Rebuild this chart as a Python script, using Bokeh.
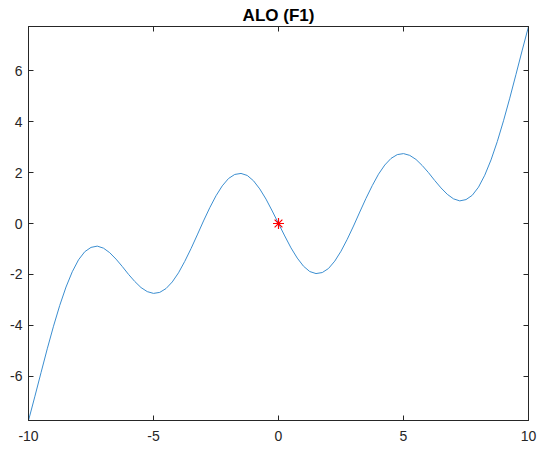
from bokeh.plotting import figure
from bokeh.models import Range1d, LinearAxis, FixedTicker, CustomJSTickFormatter
from bokeh.embed import file_html
from bokeh.resources import INLINE

# Curve values (x step 0.25)
x_vals = [-10.0, -9.75, -9.5, -9.25, -9.0, -8.75, -8.5, -8.25, -8.0, -7.75,
          -7.5, -7.25, -7.0, -6.75, -6.5, -6.25, -6.0, -5.75, -5.5, -5.25,
          -5.0, -4.75, -4.5, -4.25, -4.0, -3.75, -3.5, -3.25, -3.0, -2.75,
          -2.5, -2.25, -2.0, -1.75, -1.5, -1.25, -1.0, -0.75, -0.5, -0.25,
          0.0, 0.25, 0.5, 0.75, 1.0, 1.25, 1.5, 1.75, 2.0, 2.25,
          2.5, 2.75, 3.0, 3.25, 3.5, 3.75, 4.0, 4.25, 4.5, 4.75,
          5.0, 5.25, 5.5, 5.75, 6.0, 6.25, 6.5, 6.75, 7.0, 7.25,
          7.5, 7.75, 8.0, 8.25, 8.5, 8.75, 9.0, 9.25, 9.5, 9.75, 10.0]
y_vals = [-7.75, -6.82, -5.87, -4.93, -4.04, -3.22, -2.50, -1.90, -1.43, -1.11,
          -0.94, -0.89, -0.97, -1.15, -1.40, -1.69, -2.00, -2.28, -2.52, -2.68,
          -2.75, -2.71, -2.56, -2.30, -1.94, -1.49, -0.99, -0.45, 0.10, 0.62,
          1.09, 1.48, 1.77, 1.93, 1.97, 1.89, 1.68, 1.36, 0.96, 0.49,
          0.00, -0.49, -0.96, -1.36, -1.68, -1.89, -1.97, -1.93, -1.77, -1.48,
          -1.09, -0.62, -0.10, 0.45, 0.99, 1.49, 1.94, 2.30, 2.56, 2.71,
          2.75, 2.68, 2.52, 2.28, 2.00, 1.69, 1.40, 1.15, 0.97, 0.89,
          0.94, 1.11, 1.43, 1.90, 2.50, 3.22, 4.04, 4.93, 5.87, 6.82, 7.75]

best_x = [0.0]
best_y = [0.0]

x_ticks = [-10, -5, 0, 5, 10]
y_ticks = [-6, -4, -2, 0, 2, 4, 6]

AX = "#262626"
FONT = "Liberation Sans"

p = figure(width=544, height=453, output_backend="svg", toolbar_location=None,
           x_range=Range1d(min(x_vals), max(x_vals)),
           y_range=Range1d(min(y_vals), max(y_vals)),
           min_border_left=28, min_border_right=16, min_border_bottom=33,
           min_border_top=26)

p.add_layout(LinearAxis(), "above")
p.add_layout(LinearAxis(), "right")

for ax in p.xaxis:
    ax.ticker = FixedTicker(ticks=x_ticks)
for ax in p.yaxis:
    ax.ticker = FixedTicker(ticks=y_ticks)

for ax in p.axis:
    ax.major_tick_in = 5
    ax.major_tick_out = 0
    ax.minor_tick_in = 0
    ax.minor_tick_out = 0
    ax.axis_line_color = AX
    ax.major_tick_line_color = AX
    ax.major_label_text_font = FONT
    ax.major_label_text_font_size = "14px"
    ax.major_label_text_color = AX
    ax.formatter = CustomJSTickFormatter(code="return String(tick);")

p.below[0].major_label_standoff = 10
p.left[0].major_label_standoff = 6

for ax in p.above + p.right:
    if isinstance(ax, LinearAxis):
        ax.formatter = CustomJSTickFormatter(code="return '';")
        ax.major_label_standoff = 0

p.xgrid.visible = False
p.ygrid.visible = False
p.outline_line_color = AX

p.title.text = "ALO (F1)"
p.title.align = "center"
p.title.text_font = FONT
p.title.text_font_size = "17px"
p.title.text_font_style = "bold"
p.title.text_color = "#000000"
p.title.standoff = 4

p.line(x_vals, y_vals, line_color="#3b8ed0", line_width=1)
p.scatter(best_x, best_y, marker="asterisk", size=11, line_color="#FF0000",
          line_width=1.2)

open("out.html", "w").write(file_html(p, INLINE))
